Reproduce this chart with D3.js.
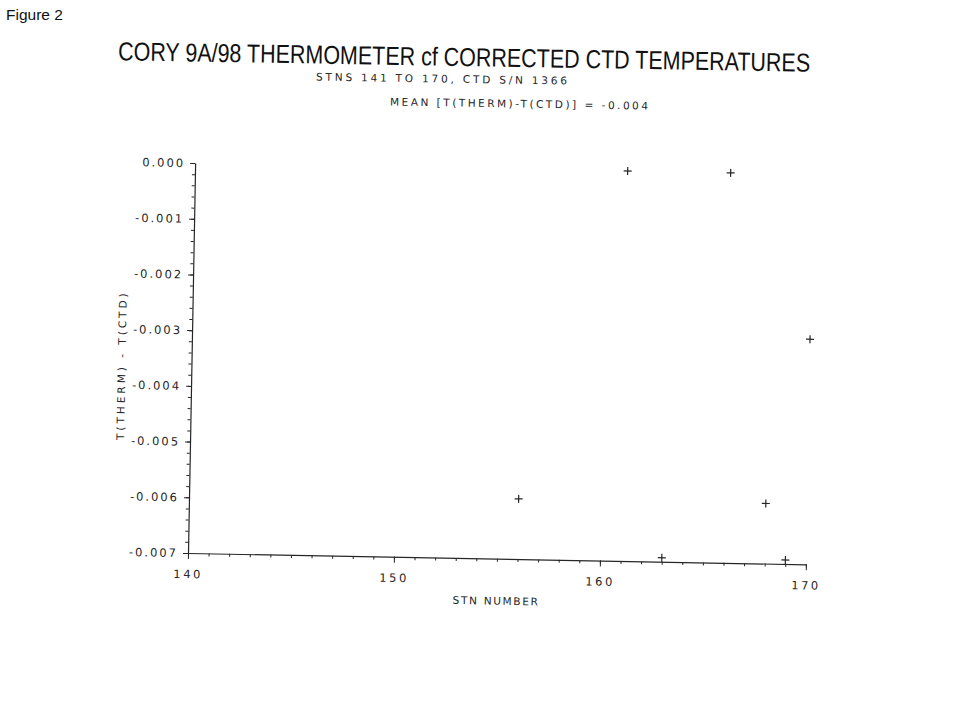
<!DOCTYPE html>
<html>
<head>
<meta charset="utf-8">
<script src="https://cdn.jsdelivr.net/npm/d3@7"></script>
<style>
  html, body { margin: 0; padding: 0; background: #ffffff; }
  svg { display: block; }
  .plot text { font-family: "DejaVu Sans", sans-serif; fill: #262626; }
</style>
</head>
<body>
<svg id="chart" width="980" height="711"></svg>
<script>
// ---- data ----
const stations = [156, 161, 163, 166, 168, 169, 170];
const diffs    = [-0.00592, 0.0000, -0.00693, 0.0000, -0.00592, -0.00693, -0.00296];
const xMajorTicks = [140, 150, 160, 170];
const yMajorTicks = [0, -0.001, -0.002, -0.003, -0.004, -0.005, -0.006, -0.007];
const yTickLabels = ["0.000", "-0.001", "-0.002", "-0.003", "-0.004", "-0.005", "-0.006", "-0.007"];
const titleText = "CORY 9A/98 THERMOMETER cf CORRECTED CTD TEMPERATURES";
const subText1 = "STNS 141 TO 170, CTD S/N 1366";
const subText2 = "MEAN [T(THERM)-T(CTD)] = -0.004";
const xLabel = "STN NUMBER";
const yLabel = "T(THERM) - T(CTD)";
const figLabel = "Figure 2";

const svg = d3.select("#chart");
const ink = "#262626";
const tilt = 1.05;            // scanned page is slightly rotated
const ox = 188, oy = 553;     // plot origin (bottom-left corner)
const plotW = 618, plotH = 390;

// figure label (not rotated)
svg.append("text")
  .attr("x", 6).attr("y", 20)
  .attr("font-family", "Liberation Sans, Arial, sans-serif")
  .attr("font-size", 15.5)
  .attr("fill", "#111")
  .text(figLabel);

// Title lines
svg.append("text")
  .attr("transform", `translate(464,66) rotate(0.95)`)
  .attr("text-anchor", "middle")
  .attr("font-family", "Liberation Sans, Arial, sans-serif")
  .attr("font-size", 26)
  .attr("fill", "#111")
  .attr("textLength", 692).attr("lengthAdjust", "spacingAndGlyphs")
  .text(titleText);

svg.append("text")
  .attr("transform", `translate(441.5,82.5) rotate(0.9)`)
  .attr("text-anchor", "middle")
  .attr("font-family", "DejaVu Sans, sans-serif")
  .attr("font-size", 10.5)
  .attr("fill", ink)
  .attr("textLength", 251).attr("lengthAdjust", "spacing")
  .text(subText1);

svg.append("text")
  .attr("transform", `translate(519,107.5) rotate(0.9)`)
  .attr("text-anchor", "middle")
  .attr("font-family", "DejaVu Sans, sans-serif")
  .attr("font-size", 10.5)
  .attr("fill", ink)
  .attr("textLength", 258).attr("lengthAdjust", "spacing")
  .text(subText2);

// plot group
const g = svg.append("g").attr("class", "plot")
  .attr("transform", `translate(${ox},${oy}) rotate(${tilt})`);

const x = d3.scaleLinear().domain([140, 170]).range([0, plotW]);
const y = d3.scaleLinear().domain([-0.007, 0]).range([0, -plotH]);

// x minor ticks
g.append("g")
  .call(d3.axisBottom(x).tickValues(d3.range(140, 171)).tickSize(3).tickFormat(""))
  .call(s => s.select(".domain").remove())
  .call(s => s.selectAll("line").attr("stroke", ink).attr("stroke-width", 1));

// x major ticks + labels
const xAx = g.append("g")
  .call(d3.axisBottom(x).tickValues(xMajorTicks).tickSize(6).tickPadding(11).tickSizeOuter(0).tickFormat(d3.format("d")));
xAx.select(".domain").attr("stroke", ink).attr("stroke-width", 1.2);
xAx.selectAll("line").attr("stroke", ink).attr("stroke-width", 1);
xAx.selectAll("text").attr("font-size", 11.5).attr("letter-spacing", "2.5px").attr("fill", ink);

// y minor ticks
g.append("g")
  .call(d3.axisLeft(y).tickValues(d3.range(0, 36).map(i => -i * 0.0002)).tickSize(3).tickFormat(""))
  .call(s => s.select(".domain").remove())
  .call(s => s.selectAll("line").attr("stroke", ink).attr("stroke-width", 1));

// y major ticks + labels
const yAx = g.append("g")
  .call(d3.axisLeft(y).tickValues(yMajorTicks).tickSize(5).tickPadding(5).tickSizeOuter(0)
    .tickFormat((d, i) => yTickLabels[i]));
yAx.select(".domain").attr("stroke", ink).attr("stroke-width", 1.2);
yAx.selectAll("line").attr("stroke", ink).attr("stroke-width", 1);
yAx.selectAll("text").attr("font-size", 11.5).attr("letter-spacing", "2px").attr("fill", ink);

// axis titles
g.append("text")
  .attr("x", x(155)).attr("y", 46)
  .attr("text-anchor", "middle")
  .attr("font-size", 10.5)
  .attr("letter-spacing", "1.7px")
  .text(xLabel);

g.append("text")
  .attr("transform", `translate(-66,${y(-0.00365)}) rotate(-90)`)
  .attr("text-anchor", "middle")
  .attr("font-size", 10.5)
  .attr("letter-spacing", "3px")
  .text(yLabel);

// data: plus markers
const pts = stations.map((s, i) => ({ s, v: diffs[i] }));
const cross = 4;
const mk = g.append("g").selectAll("g").data(pts).join("g")
  .attr("transform", d => `translate(${x(d.s)},${y(d.v)})`);
mk.append("line").attr("x1", -cross).attr("x2", cross).attr("y1", 0).attr("y2", 0)
  .attr("stroke", ink).attr("stroke-width", 1.2);
mk.append("line").attr("x1", 0).attr("x2", 0).attr("y1", -cross).attr("y2", cross)
  .attr("stroke", ink).attr("stroke-width", 1.2);
</script>
</body>
</html>
